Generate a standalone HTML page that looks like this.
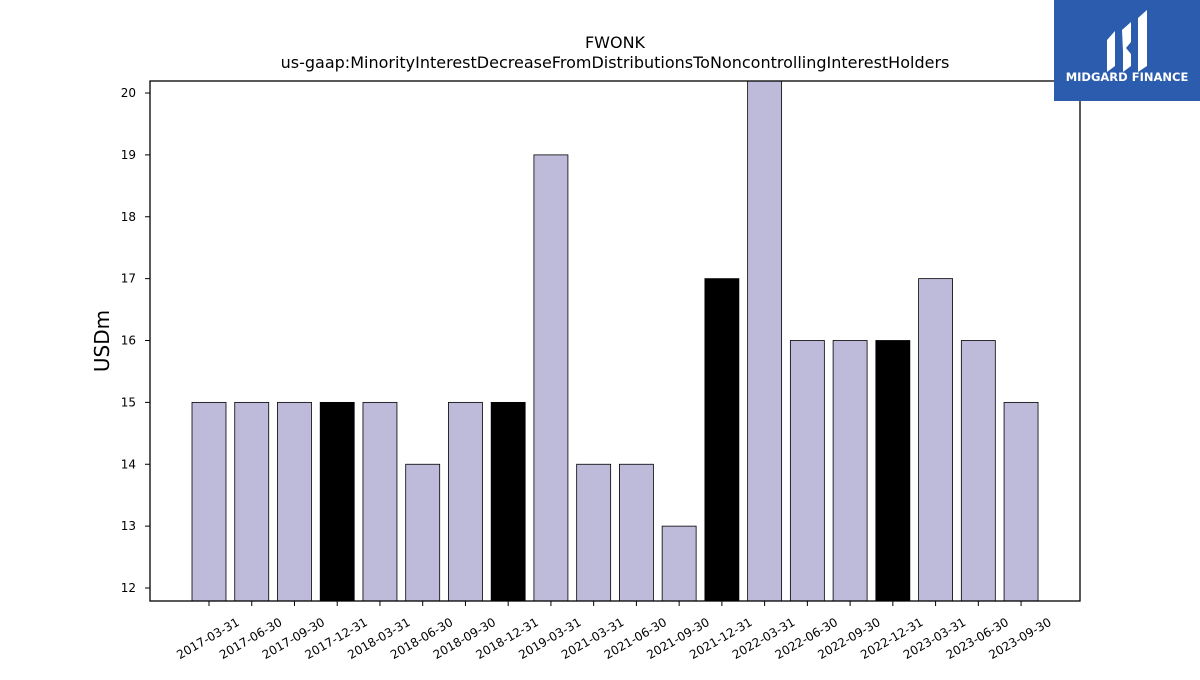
<!DOCTYPE html>
<html><head><meta charset="utf-8"><style>
body{margin:0;background:#fff;}
svg text{font-family:"DejaVu Sans","Liberation Sans",sans-serif;}
</style></head><body>
<svg id="chart" width="1200" height="675" xmlns="http://www.w3.org/2000/svg">
<rect width="1200" height="675" fill="#fff"/>
<text x="615" y="48" font-size="16" text-anchor="middle">FWONK</text>
<text x="615" y="68" font-size="16" text-anchor="middle">us-gaap:MinorityInterestDecreaseFromDistributionsToNoncontrollingInterestHolders</text>
<text transform="translate(109,341) rotate(-90)" font-size="20" text-anchor="middle">USDm</text>
<g id="bars"></g>
<g id="xticks"></g>
<g id="yticks"></g>
<rect x="150" y="81" width="930" height="520" fill="none" stroke="#000" stroke-width="1.3"/>
<g>
<rect x="1054" y="0" width="146" height="101" fill="#2b5cae"/>
<path d="M1107 40 L1115 31 L1115 66 L1107 72 Z M1122 30 L1131 22 L1131 42 L1126 48 L1131 54 L1131 66 L1123 72 L1123 52 Z M1138 18 L1147 10 L1147 66 L1138 72 Z" fill="#fff"/>
<text x="1127" y="81" font-size="11.5" font-weight="bold" fill="#fff" text-anchor="middle">MIDGARD FINANCE</text>
</g>
</svg>
<script>
const categories=["2017-03-31","2017-06-30","2017-09-30","2017-12-31","2018-03-31","2018-06-30","2018-09-30","2018-12-31","2019-03-31","2021-03-31","2021-06-30","2021-09-30","2021-12-31","2022-03-31","2022-06-30","2022-09-30","2022-12-31","2023-03-31","2023-06-30","2023-09-30"];
const values=[15,15,15,15,15,14,15,15,19,14,14,13,17,21,16,16,16,17,16,15];
const annual=[false,false,false,true,false,false,false,true,false,false,false,false,true,false,false,false,true,false,false,false];
const yTicks=[12,13,14,15,16,17,18,19,20];
const NS="http://www.w3.org/2000/svg";
const yMin=11.79,yMax=20.194,pTop=81,pBot=601;
function y(v){return pBot-(v-yMin)/(yMax-yMin)*(pBot-pTop);}
const step=42.74;
function x(i){return 209+i*step;}
const bw=34;
const gb=document.getElementById('bars'),gx=document.getElementById('xticks'),gy=document.getElementById('yticks');
values.forEach((v,i)=>{
 const r=document.createElementNS(NS,'rect');
 
 
 const top=Math.max(y(v),pTop);
 r.setAttribute('x',x(i)-bw/2);r.setAttribute('y',top);
 r.setAttribute('width',bw);r.setAttribute('height',pBot-top);
 r.setAttribute('fill',annual[i]?'#000':'#bebada');r.setAttribute('stroke','#000');r.setAttribute('stroke-width','0.8');
 gb.appendChild(r);
 const t=document.createElementNS(NS,'line');
 
 
 t.setAttribute('x1',x(i));t.setAttribute('x2',x(i));t.setAttribute('y1',601);t.setAttribute('y2',606);t.setAttribute('stroke','#000');
 gx.appendChild(t);
 const l=document.createElementNS(NS,'text');
 
 
 l.setAttribute('font-size','12');l.setAttribute('text-anchor','middle');
 l.setAttribute('transform','translate('+(x(i)+1)+',642) rotate(-30)');
 l.textContent=categories[i];gx.appendChild(l);
});
yTicks.forEach(v=>{
 const t=document.createElementNS(NS,'line');
 
 
 t.setAttribute('x1',145);t.setAttribute('x2',150);t.setAttribute('y1',y(v));t.setAttribute('y2',y(v));t.setAttribute('stroke','#000');
 gy.appendChild(t);
 const l=document.createElementNS(NS,'text');
 
 
 l.setAttribute('font-size','12');l.setAttribute('text-anchor','end');
 l.setAttribute('x',136);l.setAttribute('y',y(v)+4);
 l.textContent=v;gy.appendChild(l);
});
</script>
</body></html>
